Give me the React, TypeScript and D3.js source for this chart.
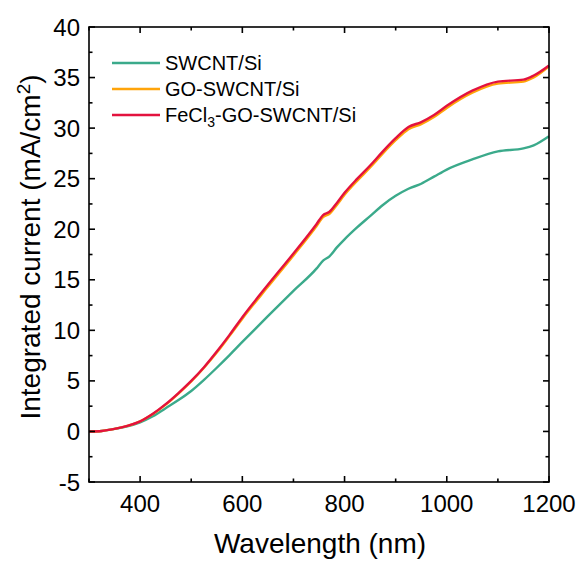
import React from "react";
import * as d3 from "d3";

const wavelengths = [300, 325, 350, 375, 400, 425, 450, 475, 500, 525, 550, 575, 600, 650, 700, 745, 758, 770, 785, 800, 825, 850, 875, 900, 925, 950, 975, 1000, 1050, 1100, 1150, 1170, 1200];
const swcnt = [0, 0.05, 0.25, 0.5, 0.9, 1.5, 2.3, 3.1, 4.0, 5.1, 6.3, 7.55, 8.85, 11.4, 13.9, 16.1, 16.9, 17.3, 18.2, 19.0, 20.2, 21.3, 22.4, 23.3, 24.0, 24.5, 25.2, 25.9, 26.9, 27.7, 28.0, 28.3, 29.2];
const goSwcnt = [0, 0.05, 0.25, 0.55, 1.0, 1.72, 2.65, 3.75, 4.95, 6.3, 7.8, 9.45, 11.15, 14.3, 17.4, 20.3, 21.2, 21.5, 22.4, 23.4, 24.8, 26.1, 27.5, 28.8, 29.9, 30.4, 31.1, 32.0, 33.5, 34.4, 34.6, 35.0, 36.1];
const fecl3 = [0, 0.05, 0.25, 0.55, 1.0, 1.75, 2.7, 3.8, 5.0, 6.35, 7.9, 9.55, 11.3, 14.5, 17.6, 20.5, 21.4, 21.7, 22.6, 23.6, 25.0, 26.3, 27.7, 29.0, 30.1, 30.6, 31.3, 32.2, 33.7, 34.6, 34.8, 35.2, 36.2];

const seriesNames = ["SWCNT/Si", "GO-SWCNT/Si", "FeCl3-GO-SWCNT/Si"];
const seriesValues = [swcnt, goSwcnt, fecl3];
const seriesColors = ["#3BAA8B", "#FFA40A", "#E3123E"];

const xMajorTicks = [400, 600, 800, 1000, 1200];
const xMinorTicks = [300, 500, 700, 900, 1100];
const yMajorTicks = [-5, 0, 5, 10, 15, 20, 25, 30, 35, 40];

const W = 582, H = 562;
const L = 89, R = 549, T = 27, B = 482;
const FONT = "Liberation Sans, Arial, sans-serif";

export default function App() {
  const x = d3.scaleLinear().domain([300, 1200]).range([L, R]);
  const y = d3.scaleLinear().domain([-5, 40]).range([B, T]);
  const line = d3
    .line<[number, number]>()
    .x((d) => x(d[0]))
    .y((d) => y(d[1]))
    .curve(d3.curveMonotoneX);
  const yMinor = yMajorTicks.slice(0, -1).map((v) => v + 2.5);

  return (
    <svg width={W} height={H} style={{ position: "absolute", left: 0, top: 0 }}>
      <rect width={W} height={H} fill="#fff" />
      {seriesValues.map((vals, i) => (
        <path
          key={i}
          d={line(wavelengths.map((w, j) => [w, vals[j]] as [number, number])) || ""}
          fill="none"
          stroke={seriesColors[i]}
          strokeWidth={2.4}
        />
      ))}
      <rect x={L} y={T} width={R - L} height={B - T} fill="none" stroke="#000" strokeWidth={1.6} />
      {xMajorTicks.map((t) => (
        <g key={"xm" + t}>
          <line x1={x(t)} x2={x(t)} y1={B} y2={B - 6} stroke="#000" strokeWidth={1.6} />
          <line x1={x(t)} x2={x(t)} y1={T} y2={T + 6} stroke="#000" strokeWidth={1.6} />
          <text x={x(t)} y={512} textAnchor="middle" fontSize={24} fontFamily={FONT}>{t}</text>
        </g>
      ))}
      {xMinorTicks.map((t) => (
        <g key={"xn" + t}>
          <line x1={x(t)} x2={x(t)} y1={B} y2={B - 3.5} stroke="#000" strokeWidth={1.6} />
          <line x1={x(t)} x2={x(t)} y1={T} y2={T + 3.5} stroke="#000" strokeWidth={1.6} />
        </g>
      ))}
      {yMajorTicks.map((t) => (
        <g key={"ym" + t}>
          <line x1={L} x2={L + 6} y1={y(t)} y2={y(t)} stroke="#000" strokeWidth={1.6} />
          <line x1={R} x2={R - 6} y1={y(t)} y2={y(t)} stroke="#000" strokeWidth={1.6} />
          <text x={80} y={y(t) + 8.6} textAnchor="end" fontSize={24} fontFamily={FONT}>{t}</text>
        </g>
      ))}
      {yMinor.map((t) => (
        <g key={"yn" + t}>
          <line x1={L} x2={L + 3.5} y1={y(t)} y2={y(t)} stroke="#000" strokeWidth={1.6} />
          <line x1={R} x2={R - 3.5} y1={y(t)} y2={y(t)} stroke="#000" strokeWidth={1.6} />
        </g>
      ))}
      <text x={320} y={553} textAnchor="middle" fontSize={28} fontFamily={FONT}>Wavelength (nm)</text>
      <text
        transform={`translate(40, 247) rotate(-90)`}
        textAnchor="middle"
        fontSize={28}
        fontFamily={FONT}
      >
        Integrated current (mA/cm<tspan dy={-10} fontSize={19}>2</tspan><tspan dy={10}>)</tspan>
      </text>
      {seriesNames.map((n, i) => {
        const ly = 63 + i * 26;
        return (
          <g key={n}>
            <line x1={112} x2={160} y1={ly} y2={ly} stroke={seriesColors[i]} strokeWidth={2.6} />
            {i === 2 ? (
              <text x={165} y={ly + 7} fontSize={20} fontFamily={FONT}>
                FeCl<tspan dy={5} fontSize={14}>3</tspan><tspan dy={-5}>-GO-SWCNT/Si</tspan>
              </text>
            ) : (
              <text x={165} y={ly + 7} fontSize={20} fontFamily={FONT}>{n}</text>
            )}
          </g>
        );
      })}
    </svg>
  );
}
